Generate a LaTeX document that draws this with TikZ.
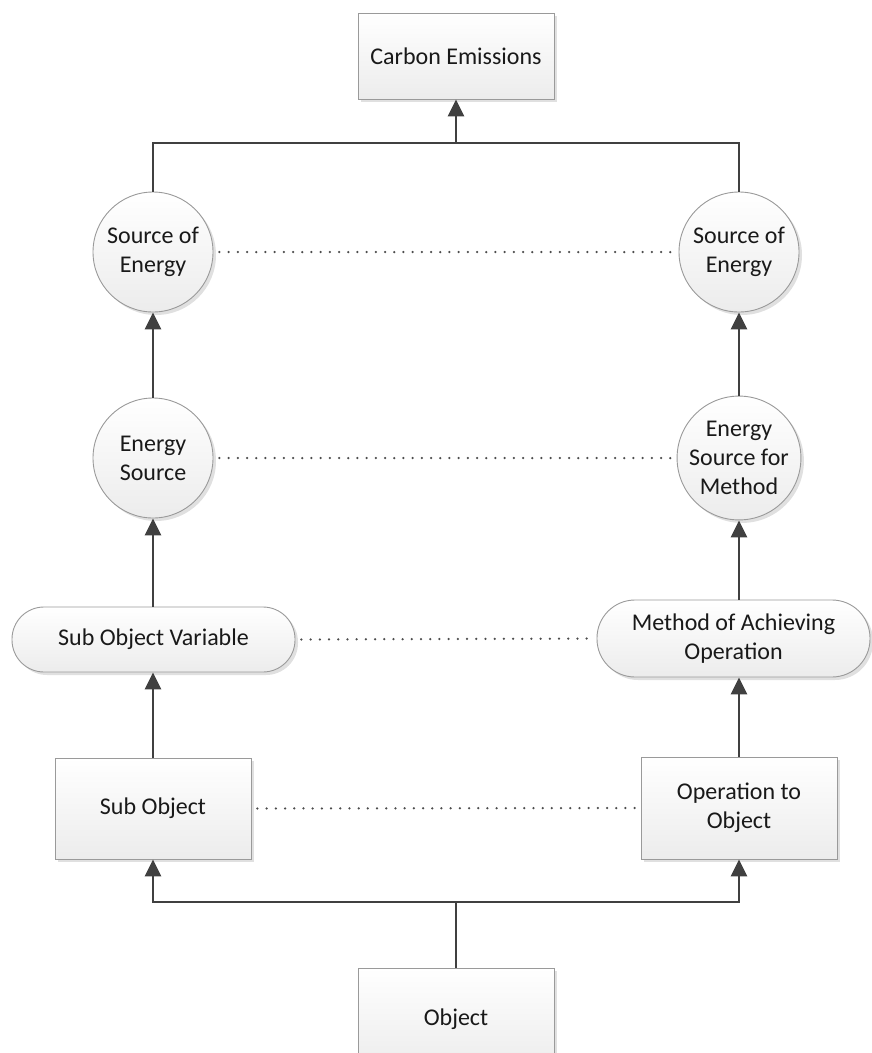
\documentclass[tikz,border=0pt]{standalone}
\usepackage{fontspec}
\setmainfont{Carlito}
\usetikzlibrary{arrows.meta,shadows}
\definecolor{edgegray}{HTML}{9A9A9A}
\definecolor{linkgray}{HTML}{404040}
\definecolor{boxbottom}{HTML}{ECECEC}
\begin{document}
\begin{tikzpicture}[x=1pt,y=-1pt,
  every node/.style={font=\fontsize{24}{29}\selectfont, text=black!90, align=center, inner sep=0pt},
  shapebase/.style={draw=edgegray, line width=0.9pt, top color=white, bottom color=boxbottom,
    drop shadow={shadow xshift=3pt, shadow yshift=-3pt, fill=black, opacity=0.12}},
  squarebox/.style={shapebase, rectangle, minimum width=196pt},
  roundbox/.style={shapebase, rectangle},
  bubble/.style={shapebase, circle, minimum size=120pt},
  link/.style={draw=linkgray, line width=2.8pt},
  arr/.style={link, -{Triangle[length=17pt,width=16pt]}},
  dots/.style={draw=black!70, line width=2.5pt, line cap=round, dash pattern=on 0pt off 9.2pt}
]
\useasboundingbox (0,0) rectangle (872,1053);

% nodes
\node[squarebox, minimum height=86pt] (ce) at (456,56) {Carbon Emissions};

\node[bubble] (se1) at (153,252) {Source of\\Energy};
\node[bubble] (se2) at (739,252) {Source of\\Energy};

\node[bubble] (es1) at (153,458) {Energy\\Source};
\node[bubble] (es2) at (739,458) {Energy\\Source for\\Method};

\node[roundbox, minimum width=283pt, minimum height=65pt, rounded corners=32pt] (sov) at (153.5,639.5) {Sub Object Variable};
\node[roundbox, minimum width=273pt, minimum height=77pt, rounded corners=38pt] (mao) at (733.5,638.5) {Method of Achieving\\Operation};

\node[squarebox, minimum height=101pt] (so) at (153,808.5) {Sub Object};
\node[squarebox, minimum height=102pt] (oo) at (739,808) {Operation to\\Object};

\node[squarebox, minimum height=102pt] (obj) at (456,1019) {Object};

% bus points
\coordinate (topbus) at (456,143);
\coordinate (botbus) at (456,902);

% top junction into carbon emissions
\draw[link] (se1.north) |- (topbus) -| (se2.north);
\draw[arr] (topbus) -- (ce.south);

% left chain
\draw[arr] (es1.north) -- (se1.south);
\draw[arr] (sov.north -| es1.south) -- (es1.south);
\draw[arr] (so.north) -- (so.north |- sov.south);

% right chain
\draw[arr] (es2.north) -- (se2.south);
\draw[arr] (es2.south |- mao.north) -- (es2.south);
\draw[arr] (oo.north) -- (oo.north |- mao.south);

% bottom junction from object
\draw[link] (obj.north) -- (botbus);
\draw[arr] (botbus) -| (so.south);
\draw[arr] (botbus) -| (oo.south);

% dotted correspondences
\draw[dots] ([xshift=6pt]se1.east) -- ([xshift=-3pt]se2.west);
\draw[dots] ([xshift=6pt]es1.east) -- ([xshift=-3pt]es2.west);
\draw[dots] ([xshift=6pt]sov.east) -- ([xshift=-3pt]mao.west);
\draw[dots] ([xshift=6pt]so.east) -- ([xshift=-3pt]oo.west);
\end{tikzpicture}
\end{document}
